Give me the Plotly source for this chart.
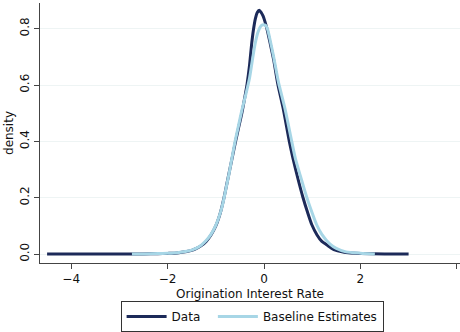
import plotly.graph_objects as go

# Kernel density estimates of the origination interest rate
data_x = [-4.5, -3.0, -2.5, -2.2, -2.0, -1.8, -1.6, -1.5, -1.4, -1.3, -1.2, -1.1, -1.0,
          -0.9, -0.83, -0.77, -0.71, -0.65, -0.59, -0.525, -0.46, -0.40, -0.35, -0.30,
          -0.26, -0.22, -0.18, -0.14, -0.10, -0.06, -0.02, 0.02, 0.06, 0.10, 0.15, 0.20,
          0.29, 0.40, 0.525, 0.60, 0.70, 0.81, 0.90, 0.99, 1.10, 1.20, 1.30, 1.45, 1.64,
          1.8, 2.0, 2.5, 3.0]
data_y = [0.0, 0.0, 0.0005, 0.0015, 0.0025, 0.004, 0.009, 0.013, 0.02, 0.03, 0.045, 0.068, 0.10,
          0.15, 0.20, 0.25, 0.30, 0.35, 0.40, 0.45, 0.50, 0.555, 0.605, 0.67,
          0.74, 0.795, 0.835, 0.857, 0.865, 0.858, 0.845, 0.825, 0.80, 0.77, 0.73, 0.69,
          0.60, 0.515, 0.40, 0.34, 0.27, 0.20, 0.15, 0.105, 0.068, 0.045, 0.033, 0.016, 0.007,
          0.004, 0.002, 0.0005, 0.0]

base_x = [-2.74, -2.5, -2.2, -2.0, -1.8, -1.6, -1.5, -1.4, -1.3, -1.2, -1.1, -1.0, -0.9,
          -0.84, -0.78, -0.72, -0.66, -0.60, -0.53, -0.46, -0.38, -0.30, -0.24, -0.18,
          -0.12, -0.06, -0.02, 0.03, 0.07, 0.12, 0.20, 0.30, 0.435, 0.575, 0.65, 0.75,
          0.89, 0.99, 1.09, 1.2, 1.37, 1.5, 1.7, 2.0, 2.3]
base_y = [0.0, 0.0006, 0.0018, 0.003, 0.005, 0.01, 0.014, 0.021, 0.032, 0.048, 0.07, 0.102, 0.15,
          0.19, 0.24, 0.29, 0.345, 0.40, 0.455, 0.51, 0.565, 0.625, 0.69, 0.75,
          0.79, 0.81, 0.814, 0.812, 0.80, 0.765, 0.70, 0.61, 0.516, 0.40, 0.34, 0.28,
          0.20, 0.15, 0.105, 0.07, 0.035, 0.02, 0.008, 0.003, 0.0]

x_ticks = [-4, -2, 0, 2, 4]
y_ticks = [0.0, 0.2, 0.4, 0.6, 0.8]

navy = "#1c2a59"
light_blue = "#a7d6e6"
axis_col = "#444444"
font = "DejaVu Sans"
pad = "\u00a0\u00a0"  # extra room after the first legend entry

fig = go.Figure()
fig.add_trace(go.Scatter(x=data_x, y=data_y, mode="lines", name="Data" + pad,
                         line=dict(color=navy, width=3, shape="spline", smoothing=0.6)))
fig.add_trace(go.Scatter(x=base_x, y=base_y, mode="lines", name="Baseline Estimates",
                         line=dict(color=light_blue, width=3, shape="spline", smoothing=0.6)))

fig.update_layout(
    width=460, height=332,
    margin=dict(l=40, r=0, t=3, b=66),
    paper_bgcolor="white", plot_bgcolor="white",
    font=dict(family=font, size=12, color="#111111"),
    showlegend=True,
    legend=dict(orientation="h", x=0.505, xanchor="center", y=-0.148, yanchor="top",
                bordercolor="#333333", borderwidth=1, font=dict(size=12),
                itemwidth=40, tracegroupgap=0),
    xaxis=dict(range=[-4.647, 4.066], tickvals=x_ticks, ticks="outside", ticklen=5,
               tickcolor=axis_col, showline=True, linecolor=axis_col, linewidth=1,
               showgrid=False, zeroline=False,
               title=dict(text="Origination Interest Rate", standoff=4, font=dict(size=12))),
    yaxis=dict(range=[-0.0316, 0.891], tickvals=y_ticks, tickformat=".1f", tickangle=-90,
               ticks="outside", ticklen=5, tickcolor=axis_col, showline=True,
               linecolor=axis_col, linewidth=1, showgrid=True, gridcolor="#eef4f4",
               zeroline=False,
               title=dict(text="density", standoff=2, font=dict(size=12))),
)

fig.write_html("out.html")
